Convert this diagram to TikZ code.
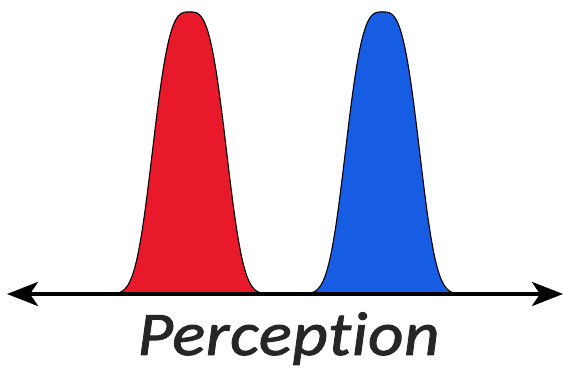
\documentclass[tikz,border=0pt]{standalone}
\usepackage{fontspec}
\setmainfont{Carlito}
\newfontfamily\labelfont[FakeBold=1.5,FakeStretch=1.11,LetterSpace=1,Ligatures=NoCommon]{Carlito}
\usetikzlibrary{arrows.meta}
\definecolor{redfill}{HTML}{E8192A}
\definecolor{bluefill}{HTML}{175DE4}
\definecolor{textgray}{HTML}{262626}
\tikzset{
  bell/.style={draw=black, line width=1.1pt, line join=round},
  axisline/.style={line width=4pt, {Stealth[length=31pt,width=24pt,inset=8pt]}-{Stealth[length=31pt,width=24pt,inset=8pt]}},
  label/.style={font=\labelfont\fontsize{62}{70}\selectfont\itshape, text=textgray, inner sep=0pt, anchor=base}
}
\begin{document}
\begin{tikzpicture}[x=1pt,y=-1pt]
\useasboundingbox (0,0) rectangle (563,371);
\coordinate (L) at (7,294);
\coordinate (R) at (563,294);
% red bell
\fill[redfill] plot[domain=-70:70,samples=120] ({189.5+\x},{294-282*exp(-(abs(\x)/41.8)^3.2)}) -- cycle;
\draw[bell] plot[domain=-70:70,samples=120] ({189.5+\x},{294-282*exp(-(abs(\x)/41.8)^3.2)});
% blue bell
\fill[bluefill] plot[domain=-70:70,samples=120] ({382.5+\x},{294-282*exp(-(abs(\x)/41.8)^3.2)}) -- cycle;
\draw[bell] plot[domain=-70:70,samples=120] ({382.5+\x},{294-282*exp(-(abs(\x)/41.8)^3.2)});
\draw[axisline] (L) -- (R);
\node[label] (t) at (288.5,355) {Perception};
\end{tikzpicture}
\end{document}
